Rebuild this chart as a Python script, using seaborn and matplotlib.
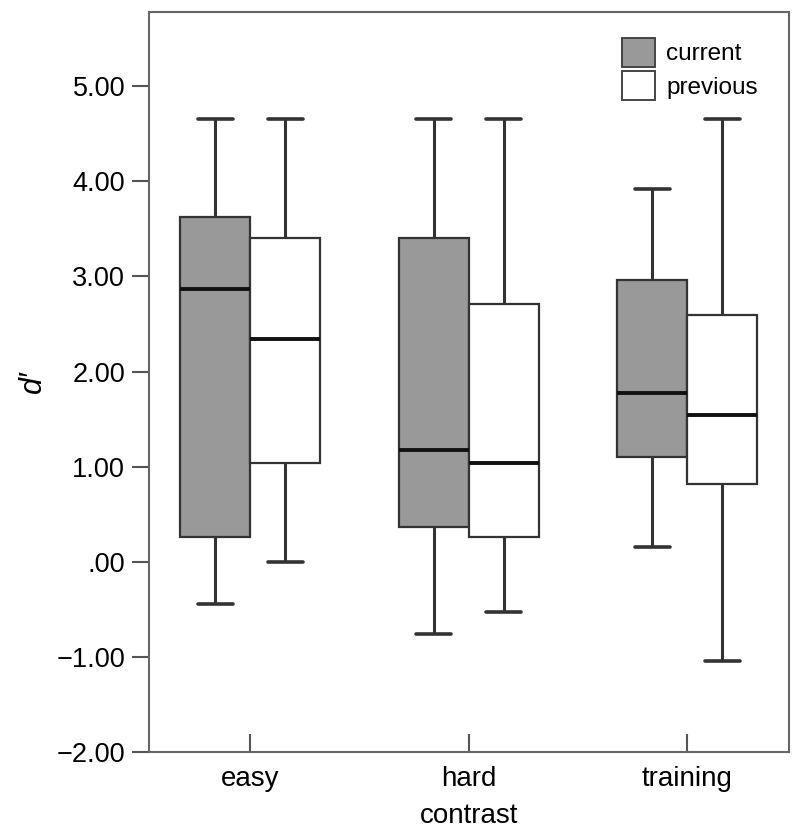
import pandas as pd
import numpy as np
import matplotlib
matplotlib.use('Agg')
import matplotlib.pyplot as plt
import seaborn as sns
from matplotlib.patches import Patch

# five-number summaries: min, Q1, median, Q3, max
contrast = ['easy', 'hard', 'training']
current_min = [-0.44, -0.76, 0.15]
current_q1 = [0.26, 0.36, 1.10]
current_med = [2.87, 1.17, 1.77]
current_q3 = [3.62, 3.40, 2.96]
current_max = [4.65, 4.65, 3.92]

previous_min = [0.00, -0.53, -1.04]
previous_q1 = [1.04, 0.26, 0.82]
previous_med = [2.34, 1.04, 1.54]
previous_q3 = [3.40, 2.71, 2.59]
previous_max = [4.65, 4.65, 4.65]

yticks = [-2, -1, 0, 1, 2, 3, 4, 5]
ytick_labels = ['\u22122.00', '\u22121.00', '.00', '1.00', '2.00', '3.00', '4.00', '5.00']

# with 5 points per box numpy percentiles give back exactly these quartiles
rows = []
for i, c in enumerate(contrast):
    for v in [current_min[i], current_q1[i], current_med[i], current_q3[i], current_max[i]]:
        rows.append({'contrast': c, 'group': 'current', 'd': v})
    for v in [previous_min[i], previous_q1[i], previous_med[i], previous_q3[i], previous_max[i]]:
        rows.append({'contrast': c, 'group': 'previous', 'd': v})
df = pd.DataFrame(rows)

sns.set_style('white')
plt.rcParams['font.family'] = ['Liberation Sans', 'DejaVu Sans']
plt.rcParams['text.color'] = 'black'
plt.rcParams['axes.labelcolor'] = 'black'
plt.rcParams['xtick.color'] = 'black'
plt.rcParams['ytick.color'] = 'black'

fig = plt.figure(figsize=(8, 8.32), dpi=100)
ax = fig.add_axes([0.186, 0.0962, 0.80, 0.8894])

cores = {'current': '#999999', 'previous': '#ffffff'}
sns.boxplot(data=df, x='contrast', y='d', hue='group', order=contrast,
            hue_order=['current', 'previous'], palette=cores,
            whis=(0, 100), width=0.64, gap=0, linecolor='#333333', linewidth=1.6,
            medianprops={'color': '#111111', 'linewidth': 2.8},
            whiskerprops={'color': '#333333', 'linewidth': 2.2},
            capprops={'color': '#333333', 'linewidth': 2.6},
            showfliers=False, ax=ax)

ax.set_ylim(-2, 5.78)
ax.set_xlim(-0.465, 2.465)
ax.set_yticks(yticks)
ax.set_yticklabels(ytick_labels, fontsize=19.5)
ax.tick_params(axis='y', left=True, direction='out', length=12, width=1.5,
               color='#555555', labelcolor='black', pad=5)
ax.tick_params(axis='x', bottom=True, direction='in', length=13, width=1.5,
               color='#555555', labelcolor='black', labelsize=20, pad=10)
ax.set_xlabel('contrast', fontsize=20, labelpad=8)
ax.set_ylabel("d\u2032", fontsize=22, style='italic', labelpad=6)

for s in ax.spines.values():
    s.set_visible(True)
    s.set_color('#666666')
    s.set_linewidth(1.5)

if ax.get_legend() is not None:
    ax.get_legend().remove()
handles = [Patch(facecolor='#999999', edgecolor='#444444', linewidth=1.4),
           Patch(facecolor='#ffffff', edgecolor='#444444', linewidth=1.4)]
ax.legend(handles, ['current', 'previous'], loc='upper left', bbox_to_anchor=(0.717, 0.985),
          frameon=False, fontsize=17.5, handlelength=1.35, handleheight=1.45,
          handletextpad=0.45, labelspacing=0.2, borderaxespad=0.2)

plt.savefig('out.png', dpi=100)
